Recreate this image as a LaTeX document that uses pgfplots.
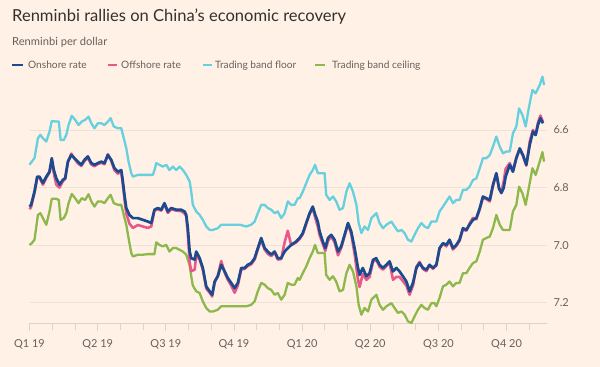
\documentclass[border=0pt]{standalone}
\usepackage{fontspec}
\setmainfont{Lato}
\usepackage{pgfplots}
\usepackage{pgfplotstable}
\pgfplotsset{compat=1.18}
\definecolor{bg}{HTML}{FFF1E5}
\definecolor{titlec}{HTML}{33302E}
\definecolor{subc}{HTML}{66605C}
\definecolor{gridc}{HTML}{EDE2D8}
\definecolor{axisc}{HTML}{DCD2C9}
\definecolor{onc}{HTML}{1B4A8E}
\definecolor{offc}{HTML}{E8598A}
\definecolor{floorc}{HTML}{66D0DE}
\definecolor{ceilc}{HTML}{8CB84C}

\pgfplotstableread{
m on off
0.00 6.866 6.875
0.07 6.860 6.868
0.22 6.814 6.818
0.34 6.762 6.766
0.44 6.762 6.765
0.59 6.784 6.790
0.74 6.762 6.766
0.88 6.745 6.748
0.98 6.698 6.705
1.07 6.739 6.750
1.18 6.768 6.790
1.32 6.790 6.800
1.47 6.773 6.778
1.57 6.768 6.770
1.69 6.710 6.712
1.84 6.687 6.682
1.98 6.698 6.700
2.13 6.710 6.716
2.28 6.721 6.725
2.42 6.704 6.708
2.57 6.692 6.697
2.72 6.715 6.720
2.86 6.721 6.726
3.01 6.715 6.718
3.16 6.710 6.714
3.30 6.715 6.719
3.45 6.687 6.684
3.60 6.704 6.708
3.74 6.733 6.740
3.89 6.745 6.752
4.04 6.739 6.745
4.11 6.779 6.790
4.18 6.825 6.840
4.26 6.871 6.890
4.40 6.895 6.925
4.55 6.906 6.940
4.77 6.906 6.930
4.99 6.912 6.935
5.21 6.918 6.940
5.36 6.923 6.935
5.50 6.877 6.880
5.65 6.871 6.875
5.80 6.877 6.880
5.94 6.854 6.858
6.09 6.883 6.888
6.24 6.871 6.875
6.46 6.877 6.880
6.68 6.877 6.882
6.83 6.883 6.890
6.90 6.895 6.900
6.97 6.941 6.960
7.05 7.022 7.060
7.12 7.045 7.090
7.27 7.050 7.085
7.34 7.022 7.035
7.49 7.045 7.050
7.63 7.079 7.085
7.78 7.143 7.150
7.93 7.160 7.165
8.04 7.172 7.178
8.15 7.126 7.130
8.29 7.108 7.105
8.44 7.068 7.055
8.59 7.091 7.095
8.73 7.114 7.120
8.88 7.131 7.140
9.03 7.149 7.165
9.17 7.131 7.140
9.32 7.079 7.085
9.47 7.079 7.082
9.61 7.068 7.072
9.76 7.062 7.066
9.91 7.045 7.050
10.05 7.010 7.015
10.20 6.975 6.980
10.35 7.010 7.015
10.49 7.022 7.030
10.64 7.033 7.038
10.79 7.022 7.026
10.93 7.045 7.050
11.08 7.045 7.048
11.23 7.022 6.990
11.37 7.010 6.950
11.52 6.999 7.000
11.74 6.987 6.990
11.89 6.975 6.978
12.03 6.958 6.962
12.18 6.923 6.926
12.33 6.889 6.892
12.47 6.866 6.872
12.58 6.895 6.905
12.69 6.918 6.935
12.77 6.952 6.965
12.91 6.987 6.995
13.02 7.010 7.020
13.14 6.975 6.985
13.28 6.964 6.970
13.43 6.981 6.990
13.58 7.022 7.035
13.72 7.004 7.010
13.87 6.964 6.968
14.02 6.923 6.928
14.16 6.952 6.960
14.31 7.010 7.030
14.46 7.079 7.120
14.53 7.103 7.145
14.67 7.079 7.100
14.83 7.108 7.120
14.97 7.097 7.110
15.12 7.051 7.058
15.26 7.045 7.050
15.41 7.068 7.075
15.56 7.079 7.085
15.71 7.068 7.072
15.85 7.056 7.060
16.00 7.091 7.120
16.15 7.079 7.110
16.29 7.091 7.110
16.44 7.108 7.125
16.59 7.126 7.140
16.73 7.160 7.172
16.88 7.131 7.140
17.03 7.079 7.075
17.17 7.062 7.058
17.32 7.079 7.082
17.47 7.085 7.090
17.61 7.068 7.070
17.76 7.079 7.082
17.91 7.068 7.070
18.05 7.010 7.012
18.20 6.993 6.995
18.35 6.999 7.004
18.49 6.981 6.985
18.64 7.010 7.015
18.79 6.999 7.002
18.93 6.981 6.985
19.08 6.941 6.945
19.23 6.947 6.950
19.37 6.929 6.925
19.52 6.912 6.905
19.67 6.906 6.910
19.82 6.871 6.875
19.96 6.831 6.835
20.11 6.837 6.840
20.26 6.843 6.848
20.40 6.791 6.795
20.55 6.750 6.752
20.67 6.802 6.806
20.77 6.819 6.815
20.87 6.802 6.780
20.96 6.762 6.735
21.14 6.721 6.715
21.28 6.745 6.742
21.43 6.698 6.695
21.58 6.664 6.668
21.72 6.687 6.690
21.87 6.721 6.724
22.02 6.652 6.640
22.16 6.606 6.600
22.28 6.617 6.618
22.38 6.583 6.575
22.49 6.559 6.550
22.60 6.577 6.572
}\ratestable

\pgfplotstableread{
m floor ceil
0.00 6.721 6.999
0.10 6.710 6.993
0.22 6.698 6.981
0.37 6.629 6.895
0.48 6.617 6.889
0.59 6.629 6.906
0.74 6.640 6.929
0.88 6.606 6.883
0.98 6.569 6.839
1.18 6.571 6.839
1.29 6.571 6.843
1.37 6.635 6.912
1.51 6.635 6.906
1.62 6.617 6.889
1.72 6.583 6.854
1.86 6.551 6.822
2.01 6.565 6.837
2.16 6.583 6.854
2.30 6.571 6.837
2.45 6.565 6.843
2.60 6.554 6.823
2.72 6.577 6.848
2.86 6.594 6.866
3.01 6.577 6.848
3.16 6.577 6.848
3.30 6.583 6.854
3.45 6.571 6.837
3.57 6.559 6.825
3.71 6.588 6.854
3.89 6.594 6.860
4.04 6.594 6.860
4.15 6.629 6.895
4.26 6.663 6.929
4.36 6.710 6.975
4.48 6.750 7.027
4.55 6.762 7.039
4.77 6.756 7.033
4.99 6.756 7.033
5.21 6.756 7.031
5.43 6.756 7.031
5.50 6.740 7.031
5.58 6.715 6.990
5.72 6.721 6.999
5.87 6.727 7.004
6.02 6.721 6.999
6.16 6.739 7.022
6.31 6.727 7.010
6.46 6.739 7.010
6.61 6.727 7.016
6.75 6.739 7.022
6.90 6.756 7.033
7.05 6.779 7.070
7.12 6.814 7.108
7.19 6.860 7.140
7.34 6.883 7.160
7.49 6.895 7.166
7.63 6.912 7.195
7.78 6.935 7.218
7.93 6.947 7.230
8.07 6.947 7.230
8.29 6.941 7.224
8.44 6.929 7.212
8.66 6.929 7.212
8.95 6.929 7.212
9.25 6.929 7.212
9.54 6.935 7.212
9.76 6.929 7.207
9.91 6.918 7.195
10.05 6.889 7.160
10.20 6.860 7.131
10.35 6.860 7.137
10.49 6.871 7.149
10.64 6.877 7.155
10.79 6.889 7.172
10.93 6.883 7.166
11.08 6.906 7.189
11.23 6.889 7.172
11.37 6.848 7.131
11.52 6.860 7.137
11.67 6.860 7.137
11.81 6.837 7.114
11.89 6.837 7.120
12.03 6.814 7.097
12.18 6.785 7.074
12.33 6.756 7.045
12.47 6.739 7.022
12.57 6.721 6.999
12.69 6.750 7.027
12.84 6.750 7.027
12.99 6.750 7.027
13.06 6.825 7.103
13.21 6.843 7.120
13.36 6.831 7.108
13.50 6.848 7.126
13.65 6.877 7.160
13.80 6.871 7.155
13.95 6.814 7.097
14.09 6.785 7.068
14.24 6.814 7.091
14.39 6.860 7.143
14.49 6.923 7.207
14.61 6.958 7.241
14.75 6.935 7.218
14.90 6.947 7.230
15.05 6.906 7.189
15.27 6.889 7.172
15.41 6.923 7.207
15.56 6.941 7.224
15.71 6.929 7.212
15.93 6.918 7.201
16.07 6.935 7.218
16.22 6.952 7.235
16.37 6.947 7.230
16.51 6.958 7.241
16.66 6.981 7.264
16.81 6.987 7.270
16.95 6.964 7.247
17.10 6.941 7.224
17.25 6.923 7.207
17.39 6.935 7.218
17.54 6.941 7.224
17.69 6.918 7.201
17.83 6.918 7.201
17.91 6.918 7.212
18.05 6.883 7.183
18.20 6.866 7.143
18.35 6.848 7.137
18.49 6.831 7.126
18.64 6.854 7.143
18.79 6.843 7.131
18.93 6.843 7.131
19.08 6.808 7.097
19.23 6.808 7.097
19.37 6.797 7.079
19.52 6.774 7.062
19.67 6.768 7.056
19.82 6.733 7.022
19.96 6.698 6.981
20.11 6.698 6.975
20.26 6.687 6.970
20.40 6.658 6.941
20.55 6.623 6.895
20.70 6.658 6.929
20.84 6.681 6.947
20.99 6.675 6.947
21.14 6.675 6.947
21.28 6.612 6.883
21.43 6.588 6.860
21.55 6.525 6.797
21.70 6.548 6.820
21.84 6.588 6.860
21.99 6.519 6.797
22.14 6.461 6.733
22.28 6.473 6.756
22.46 6.444 6.710
22.58 6.415 6.677
22.65 6.444 6.710
}\bandtable

\begin{document}
\begin{tikzpicture}
\fill[bg] (0,0) rectangle (600bp,-367bp);
\node[anchor=base west, inner sep=0, text=titlec, font=\fontsize{16.6}{19}\selectfont] at (12bp,-21bp) {Renminbi rallies on China's economic recovery};
\node[anchor=base west, inner sep=0, text=subc, font=\fontsize{11.2}{14}\selectfont] at (12bp,-45bp) {Renminbi per dollar};
\begin{scope}[line width=2.4bp]
\draw[onc] (12bp,-65bp) -- (23bp,-65bp);
\draw[offc] (108bp,-65bp) -- (117bp,-65bp);
\draw[floorc] (203bp,-65bp) -- (212bp,-65bp);
\draw[ceilc] (315bp,-65bp) -- (325bp,-65bp);
\end{scope}
\begin{scope}[every node/.style={anchor=base west, inner sep=0, text=subc, font=\fontsize{10.2}{12}\selectfont}]
\node at (28bp,-68.5bp) {Onshore rate};
\node at (121bp,-68.5bp) {Offshore rate};
\node at (215bp,-68.5bp) {Trading band floor};
\node at (332bp,-68.5bp) {Trading band ceiling};
\end{scope}
\begin{axis}[
  at={(29.5bp,-323bp)}, anchor=south west,
  scale only axis, width=517.5bp, height=250.7bp,
  xmin=0, xmax=22.78, ymin=6.4, ymax=7.27,
  y dir=reverse,
  clip=false,
  axis x line*=bottom, axis y line*=right,
  x axis line style={draw=axisc, line width=0.8bp, -},
  y axis line style={draw=none},
  xtick={0,3,6,9,12,15,18,21},
  xticklabels={Q1 19,Q2 19,Q3 19,Q4 19,Q1 20,Q2 20,Q3 20,Q4 20},
  minor xtick={1,2,4,5,7,8,10,11,13,14,16,17,19,20,22},
  tick align=outside,
  major tick length=8bp, minor tick length=7bp,
  xtick style={draw=axisc, line width=0.8bp},
  ytick={6.6,6.8,7.0,7.2},
  ytick style={draw=none},
  yticklabel pos=right,
  ymajorgrids, grid style={draw=gridc, line width=0.8bp},
  /pgf/number format/assume math mode=true,
  /pgf/number format/fixed, /pgf/number format/fixed zerofill, /pgf/number format/precision=1,
  tick label style={text=subc, font=\fontsize{11}{13}\selectfont},
  xticklabel style={yshift=-5bp},
  yticklabel style={anchor=west, xshift=-5bp},
]
\addplot[floorc, line width=2.3bp, line join=round] table[x=m, y=floor] {\bandtable};
\addplot[ceilc, line width=2.3bp, line join=round] table[x=m, y=ceil] {\bandtable};
\addplot[offc, line width=2.6bp, line join=round] table[x=m, y=off] {\ratestable};
\addplot[onc, line width=2.7bp, line join=round] table[x=m, y=on] {\ratestable};
\end{axis}
\end{tikzpicture}
\end{document}
